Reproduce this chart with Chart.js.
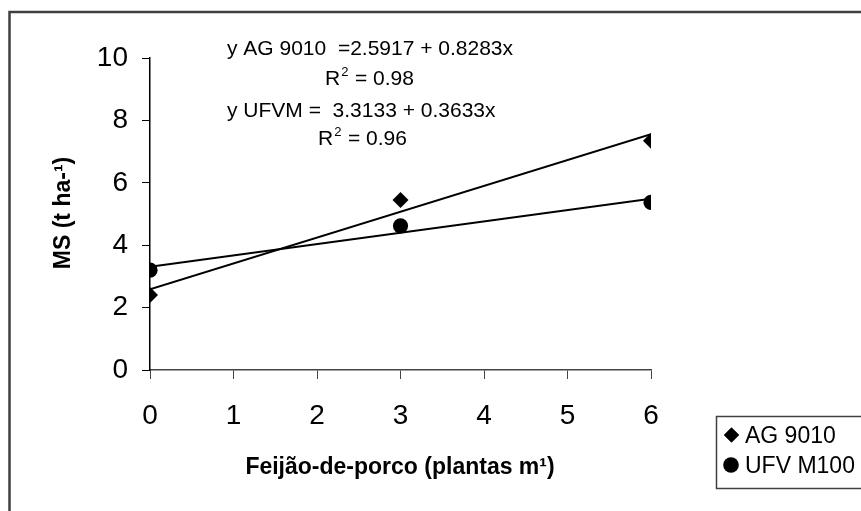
<!DOCTYPE html>
<html>
<head>
<meta charset="utf-8">
<script src="https://cdn.jsdelivr.net/npm/chart.js@4.4.1/dist/chart.umd.min.js"></script>
<style>
  html, body { margin: 0; padding: 0; background: #fff; }
  #wrap { width: 861px; height: 511px; position: relative; }
</style>
</head>
<body>
<div id="wrap"><canvas id="chart" width="861" height="511"></canvas></div>
<script>
// data
const plantas = [0, 3, 6];
const ag9010 = [2.4, 5.45, 7.35];
const ufvM100 = [3.2, 4.62, 5.37];
// trend line end points (x = 0 and x = 6)
const trendX = [0, 6];
const agTrend = [2.59, 7.56];
const ufvTrend = [3.31, 5.49];
const xTicks = [0, 1, 2, 3, 4, 5, 6];
const yTicks = [0, 2, 4, 6, 8, 10];

const FONT = "'Liberation Sans', Arial, sans-serif";

function pts(xs, ys) {
  return xs.map(function (x, i) { return { x: x, y: ys[i] }; });
}

// frame, equations, axis titles and the boxed legend
const decorPlugin = {
  id: "decor",
  beforeDraw: function (chart) {
    const ctx = chart.ctx;
    ctx.save();
    ctx.fillStyle = "#fff";
    ctx.fillRect(0, 0, chart.width, chart.height);
    ctx.strokeStyle = "#404040";
    ctx.lineWidth = 2.5;
    ctx.strokeRect(9.5, 12, 900, 600);
    ctx.restore();
  },
  afterDraw: function (chart) {
    const ctx = chart.ctx;
    ctx.save();
    ctx.fillStyle = "#000";
    ctx.textBaseline = "alphabetic";

    // equations
    ctx.font = "21px " + FONT;
    ctx.textAlign = "left";
    ctx.fillText("y AG 9010  =2.5917 + 0.8283x", 227, 55);
    ctx.fillText("y UFVM =  3.3133 + 0.3633x", 227, 116.5);
    drawR2(ctx, "0.98", 325, 85);
    drawR2(ctx, "0.96", 318, 145);

    // axis titles
    ctx.font = "bold 23px " + FONT;
    ctx.textAlign = "center";
    ctx.fillText("Feijão-de-porco (plantas m¹)", 400, 474);
    ctx.save();
    ctx.translate(70, 213);
    ctx.rotate(-Math.PI / 2);
    ctx.fillText("MS (t ha-¹)", 0, 0);
    ctx.restore();

    // legend
    ctx.strokeStyle = "#404040";
    ctx.lineWidth = 1.5;
    ctx.strokeRect(716.5, 416.5, 200, 72);
    ctx.font = "23px " + FONT;
    ctx.textAlign = "left";
    Chart.helpers.drawPoint(ctx, { pointStyle: "rectRot", radius: 7.5, borderWidth: 0 }, 731.5, 435);
    ctx.fill();
    ctx.fillText("AG 9010", 745, 443);
    ctx.beginPath();
    ctx.arc(731, 465, 7.8, 0, Math.PI * 2);
    ctx.fill();
    ctx.fillText("UFV M100", 745, 473);
    ctx.restore();
  }
};

function drawR2(ctx, val, x, y) {
  ctx.fillText("R", x, y);
  const w = ctx.measureText("R").width;
  ctx.save();
  ctx.font = "13px " + FONT;
  ctx.fillText("2", x + w + 1, y - 9);
  ctx.restore();
  ctx.fillText(" = " + val, x + w + 9, y);
}

new Chart(document.getElementById("chart"), {
  type: "scatter",
  data: {
    datasets: [
      {
        label: "AG 9010",
        data: pts(plantas, ag9010),
        pointStyle: "rectRot",
        pointRadius: 8,
        backgroundColor: "#000",
        borderColor: "#000",
        borderWidth: 0,
        order: 1,
      },
      {
        label: "UFV M100",
        data: pts(plantas, ufvM100),
        pointStyle: "circle",
        pointRadius: 7.6,
        backgroundColor: "#000",
        borderColor: "#000",
        borderWidth: 0,
        order: 1,
      },
      {
        label: "AG trend",
        data: pts(trendX, agTrend),
        showLine: true,
        pointRadius: 0,
        borderColor: "#000",
        borderWidth: 2,
        order: 2,
      },
      {
        label: "UFV trend",
        data: pts(trendX, ufvTrend),
        showLine: true,
        pointRadius: 0,
        borderColor: "#000",
        borderWidth: 2,
        order: 2,
      },
    ],
  },
  options: {
    responsive: false,
    animation: false,
    devicePixelRatio: 1,
    layout: { padding: { left: 0, right: 210, top: 58, bottom: 0 } },
    plugins: {
      legend: { display: false },
      title: { display: false },
      tooltip: { enabled: false },
    },
    scales: {
      x: {
        type: "linear",
        min: 0,
        max: 6,
        afterFit: function (s) { s.height = 141; },
        afterBuildTicks: function (s) { s.ticks = xTicks.map(function (v) { return { value: v }; }); },
        grid: { display: true, drawOnChartArea: false, tickLength: 9, color: "#444", lineWidth: 1 },
        border: { display: true, color: "#444", width: 1.5 },
        ticks: { color: "#000", font: { family: FONT, size: 28 }, padding: 20 },
      },
      y: {
        type: "linear",
        min: 0,
        max: 10,
        afterFit: function (s) { s.width = 150; },
        afterBuildTicks: function (s) { s.ticks = yTicks.map(function (v) { return { value: v }; }); },
        grid: { display: true, drawOnChartArea: false, tickLength: 8, color: "#000", lineWidth: 1 },
        border: { display: true, color: "#000", width: 1.5 },
        ticks: { color: "#000", font: { family: FONT, size: 28 }, padding: 14 },
      },
    },
  },
  plugins: [decorPlugin],
});
</script>
</body>
</html>
